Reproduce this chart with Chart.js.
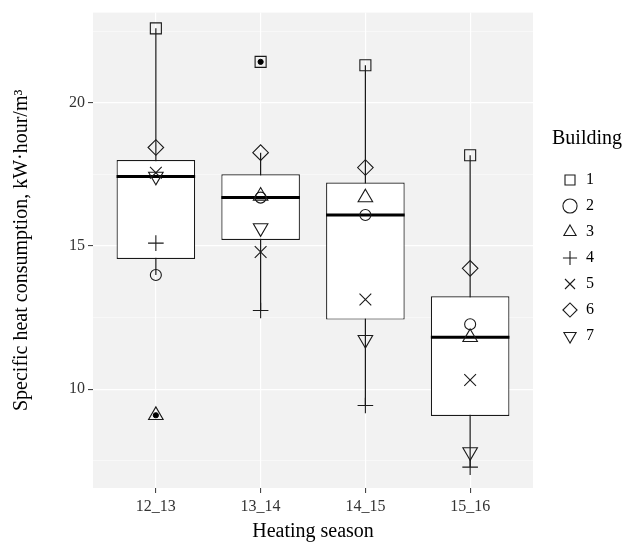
<!DOCTYPE html>
<html>
<head>
<meta charset="utf-8">
<script src="https://cdn.jsdelivr.net/npm/chart.js@4.4.1/dist/chart.umd.min.js"></script>
<style>
  html, body { margin: 0; padding: 0; background: #fff; }
  #wrap { width: 639px; height: 544px; }
</style>
</head>
<body>
<div id="wrap"><canvas id="myChart"></canvas></div>
<script>
const seasons = ["12_13", "13_14", "14_15", "15_16"];
const buildings = ["1", "2", "3", "4", "5", "6", "7"];
// specific heat consumption per building, one value per season
const b1 = [22.6, 21.43, 21.31, 18.17];
const b2 = [13.99, 16.69, 16.08, 12.27];
const b3 = [9.09, 16.75, 16.69, 11.81];
const b4 = [15.1, 12.75, 9.43, 7.28];
const b5 = [17.56, 14.79, 13.13, 10.32];
const b6 = [18.44, 18.26, 17.74, 14.22];
const b7 = [17.43, 15.63, 11.73, 7.81];
const series = [b1, b2, b3, b4, b5, b6, b7];
const yTicks = [7.5, 10, 12.5, 15, 17.5, 20, 22.5];

const shapes = ["rect", "circle", "triangle", "cross", "crossRot", "rectRot", "triangle"];
const rotations = [0, 0, 0, 0, 0, 0, 180];
const radii = [7.8, 5.5, 8.4, 7.8, 8.3, 7.8, 8.4];
const ink = "#1a1a1a";
const serif = "'Liberation Serif', 'Times New Roman', serif";

function quantile(sorted, p) {
  let h = (sorted.length - 1) * p;
  let lo = Math.floor(h);
  let hi = Math.min(lo + 1, sorted.length - 1);
  return sorted[lo] + (h - lo) * (sorted[hi] - sorted[lo]);
}

let boxData = [], whiskerData = [], medianData = [], outlierData = [];
seasons.forEach((s, i) => {
  let x = i + 1;
  let vals = series.map((b) => b[i]).sort((a, b) => a - b);
  let q1 = quantile(vals, 0.25), med = quantile(vals, 0.5), q3 = quantile(vals, 0.75);
  let iqr = q3 - q1;
  let inside = vals.filter((v) => v >= q1 - 1.5 * iqr && v <= q3 + 1.5 * iqr);
  vals.filter((v) => !inside.includes(v)).forEach((v) => outlierData.push({ x: x, y: v }));
  boxData.push({ x: x, y: [q1, q3] });
  whiskerData.push({ x: x, y: inside[0] }, { x: x, y: inside[inside.length - 1] }, { x: x, y: null });
  medianData.push({ x: x - 0.375, y: med }, { x: x + 0.375, y: med }, { x: x, y: null });
});

let pointSets = series.map((b, k) => ({
  type: "line",
  label: buildings[k],
  data: b.map((v, i) => ({ x: i + 1, y: v })),
  showLine: false,
  pointStyle: shapes[k],
  pointRotation: rotations[k],
  pointRadius: radii[k],
  pointBorderColor: ink,
  pointBackgroundColor: "rgba(0,0,0,0)",
  pointBorderWidth: 1.1,
  borderColor: ink,
  backgroundColor: "rgba(0,0,0,0)",
  order: 0,
}));

const panelBg = {
  id: "panelBg",
  beforeDraw(chart) {
    let a = chart.chartArea;
    let c = chart.ctx;
    c.save();
    c.fillStyle = "#f2f2f2";
    c.fillRect(a.left, a.top, a.right - a.left, a.bottom - a.top);
    c.restore();
  },
};

// legend box reaches the right edge so the title is not clipped
const wideLegend = {
  id: "wideLegend",
  beforeInit(chart) {
    let fit = chart.legend.fit;
    chart.legend.fit = function () {
      fit.bind(chart.legend)();
      this.width += 35;
    };
  },
};

Chart.defaults.font.family = serif;

var ctx = document.getElementById("myChart").getContext("2d");
var myChart = new Chart(ctx, {
  type: "bar",
  data: {
    datasets: pointSets.concat([
      {
        type: "line",
        label: "outliers",
        data: outlierData,
        showLine: false,
        pointStyle: "circle",
        pointRadius: 2.6,
        pointBackgroundColor: "#000",
        pointBorderColor: "#000",
        order: 1,
      },
      {
        type: "line",
        label: "median",
        data: medianData,
        borderColor: "#000",
        borderWidth: 3,
        pointRadius: 0,
        spanGaps: false,
        order: 2,
      },
      {
        type: "bar",
        label: "box",
        data: boxData,
        backgroundColor: "#fff",
        borderColor: ink,
        borderWidth: 1.2,
        borderSkipped: false,
        categoryPercentage: 1,
        barPercentage: 0.75,
        order: 3,
      },
      {
        type: "line",
        label: "whisker",
        data: whiskerData,
        borderColor: ink,
        borderWidth: 1.2,
        pointRadius: 0,
        spanGaps: false,
        order: 4,
      },
    ]),
  },
  options: {
    responsive: true,
    maintainAspectRatio: false,
    animation: false,
    events: [],
    layout: { padding: { top: 9, right: 0, left: 0, bottom: 0 } },
    plugins: {
      tooltip: { enabled: false },
      legend: {
        position: "right",
        align: "start",
        labels: {
          usePointStyle: true,
          boxHeight: 10,
          padding: 10,
          color: "#000",
          font: { family: serif, size: 16 },
          filter: (item) => buildings.includes(item.text),
        },
        title: {
          display: true,
          text: "Building",
          position: "start",
          color: "#000",
          font: { family: serif, size: 20 },
          padding: { top: 120, bottom: 9 },
        },
      },
    },
    scales: {
      x: {
        type: "linear",
        min: 0.4,
        max: 4.6,
        offset: false,
        afterBuildTicks: (s) => { s.ticks = seasons.map((c, i) => ({ value: i + 1 })); },
        afterFit: (s) => { s.height = 56; },
        ticks: {
          autoSkip: false,
          maxRotation: 0,
          padding: 4,
          color: "#333",
          font: { size: 16 },
          callback: (v) => seasons[v - 1],
        },
        grid: { offset: false, color: "#fff", lineWidth: 1.2, tickColor: "#333", tickLength: 5, tickWidth: 1 },
        border: { display: false },
        title: {
          display: true,
          text: "Heating season",
          color: "#000",
          font: { size: 20 },
          padding: { top: 0, bottom: 0 },
        },
      },
      y: {
        type: "linear",
        min: 6.55,
        max: 23.15,
        afterBuildTicks: (s) => { s.ticks = yTicks.map((v) => ({ value: v })); },
        afterFit: (s) => { s.width = 93; },
        ticks: {
          autoSkip: false,
          padding: 3,
          color: "#333",
          font: { size: 16 },
          callback: (v) => (v % 5 === 0 ? v : ""),
        },
        grid: {
          color: "#fff",
          lineWidth: (c) => (c.tick && c.tick.value % 5 === 0 ? 1.2 : 0.5),
          tickColor: (c) => (c.tick && c.tick.value % 5 === 0 ? "#333" : "rgba(0,0,0,0)"),
          tickLength: 5,
          tickWidth: 1,
        },
        border: { display: false },
        title: {
          display: true,
          text: "Specific heat consumption, kW·hour/m³",
          color: "#000",
          font: { size: 20 },
          padding: { top: 10, bottom: 0 },
        },
      },
      gap: {
        type: "linear",
        position: "right",
        display: true,
        afterFit: (s) => { s.width = 19; },
        ticks: { display: false },
        grid: { display: false },
        border: { display: false },
      },
    },
  },
  plugins: [panelBg, wideLegend],
});
</script>
</body>
</html>
